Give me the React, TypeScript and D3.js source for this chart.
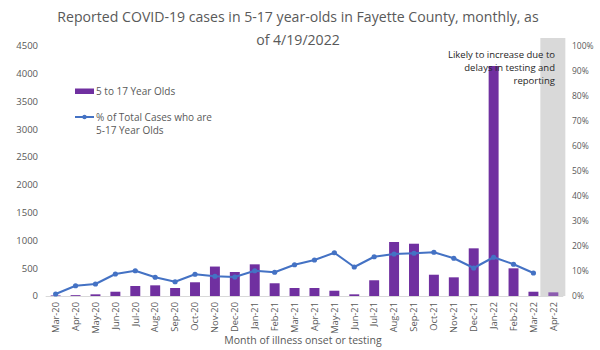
import React from "react";
import * as d3 from "d3";

const months = ["Mar-20","Apr-20","May-20","Jun-20","Jul-20","Aug-20","Sep-20","Oct-20","Nov-20","Dec-20","Jan-21","Feb-21","Mar-21","Apr-21","May-21","Jun-21","Jul-21","Aug-21","Sep-21","Oct-21","Nov-21","Dec-21","Jan-22","Feb-22","Mar-22","Apr-22"];
const cases = [10,15,30,77,180,192,144,247,530,432,570,229,144,144,95,30,283,972,941,383,336,858,4140,498,77,66];
const pctLabels = months.slice(0, 25);
const pctValues = [0.8,4.1,4.8,8.8,10.1,7.5,5.7,8.7,7.9,7.6,10.1,9.5,12.5,14.4,17.3,11.6,15.7,16.8,17.1,17.5,15.1,11.2,15.5,12.7,9.2];
const leftTicks = [0,500,1000,1500,2000,2500,3000,3500,4000,4500];
const rightTicks = [0,10,20,30,40,50,60,70,80,90,100];
const titleLines = ["Reported COVID-19 cases in 5-17 year-olds in Fayette County, monthly, as","of 4/19/2022"];
const noteLines = ["Likely to increase due to","delays in testing and","reporting"];
const shadedMonth = "Apr-22";

const W = 600, H = 350;
const left = 45.7, right = 563.3, top = 46, bottom = 296;
const font = "'Open Sans', sans-serif";

export default function App() {
  const x = d3.scaleBand<string>().domain(months).range([left, right]).padding(0);
  const step = x.step();
  const cx = (m: string) => (x(m) as number) + step / 2;
  const yL = d3.scaleLinear().domain([0, 4500]).range([bottom, top]);
  const yR = d3.scaleLinear().domain([0, 100]).range([bottom, top]);
  const barW = step * 0.5;
  const line = d3.line<number>().x((_, i) => cx(pctLabels[i])).y((d) => yR(d));
  const shadeX = cx(shadedMonth);

  return (
    <svg width={W} height={H} style={{ position: "absolute", left: 0, top: 0 }} fontFamily={font}>
      <rect x={0} y={0} width={W} height={H} fill="#fff" />
      <rect x={shadeX - 13} y={38} width={25} height={bottom - 38} fill="#d9d9d9" />
      {titleLines.map((t, i) => (
        <text key={i} x={298} y={22 + i * 23} textAnchor="middle" fontSize={14.1} fill="#595959">{t}</text>
      ))}
      {leftTicks.map((t) => (
        <text key={t} x={38} y={yL(t)} dy="0.35em" textAnchor="end" fontSize={9.5} fill="#595959">{t}</text>
      ))}
      {rightTicks.map((t) => (
        <text key={t} x={572} y={yR(t)} dy="0.35em" textAnchor="start" fontSize={8.5} fill="#595959">{t}%</text>
      ))}
      <line x1={left} x2={right} y1={bottom + 0.5} y2={bottom + 0.5} stroke="#d9d9d9" strokeWidth={1} />
      {months.map((m, i) => (
        <rect key={m} x={cx(m) - barW / 2} y={yL(cases[i])} width={barW} height={bottom - yL(cases[i])}
          fill={m === shadedMonth ? "#8c5cb0" : "#7030A0"} />
      ))}
      <path d={line(pctValues) || ""} fill="none" stroke="#4472C4" strokeWidth={2} strokeLinejoin="round" />
      {pctValues.map((v, i) => (
        <circle key={i} cx={cx(pctLabels[i])} cy={yR(v)} r={2.6} fill="#4472C4" />
      ))}
      {months.map((m) => (
        <text key={m} transform={`translate(${cx(m)},${bottom + 6}) rotate(-90)`} dy="0.35em" textAnchor="end" fontSize={9.3} fill="#595959">{m}</text>
      ))}
      <text x={303} y={344} textAnchor="middle" fontSize={10.5} fill="#595959">Month of illness onset or testing</text>
      <rect x={75} y={88.5} width={19} height={5.5} fill="#7030A0" />
      <text x={96} y={91} dy="0.35em" fontSize={10} fill="#595959">5 to 17 Year Olds</text>
      <line x1={75} x2={94} y1={117} y2={117} stroke="#4472C4" strokeWidth={2} />
      <circle cx={84.5} cy={117} r={2.2} fill="#4472C4" />
      <text x={96} y={117} dy="0.35em" fontSize={10} fill="#595959">% of Total Cases who are</text>
      <text x={96} y={130.5} dy="0.35em" fontSize={10} fill="#595959">5-17 Year Olds</text>
      {noteLines.map((t, i) => (
        <text key={i} x={555} y={54.5 + i * 13} dy="0.35em" textAnchor="end" fontSize={9.5} fill="#262626">{t}</text>
      ))}
    </svg>
  );
}
